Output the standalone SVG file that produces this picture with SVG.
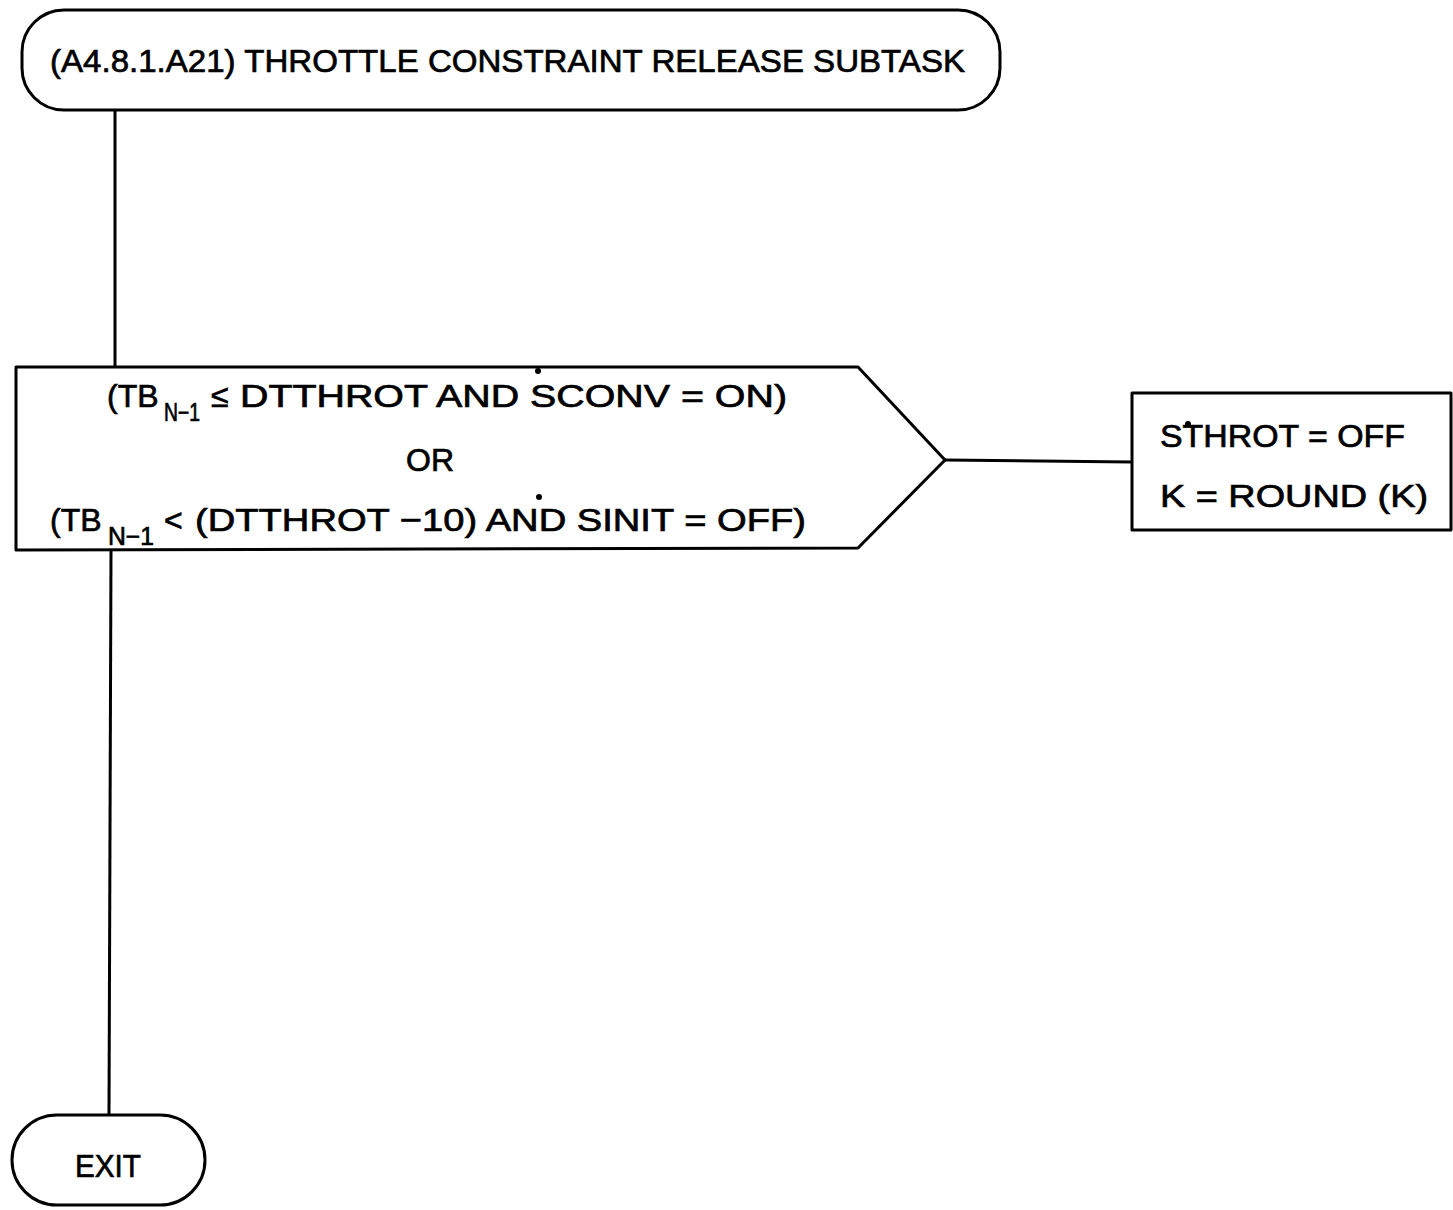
<svg xmlns="http://www.w3.org/2000/svg" width="1453" height="1210" viewBox="0 0 1453 1210">
<style>
.s{fill:none;stroke:#000;stroke-width:3;stroke-linejoin:round}
.c{fill:none;stroke:#000;stroke-width:3}
.t{font-family:"Liberation Sans",Arial,sans-serif;font-size:32px;fill:#000;stroke:#000;stroke-width:0.7}
.sub{font-size:25px}
</style>
<rect width="1453" height="1210" fill="#fff"/>
<g id="connectors">
<line class="c" x1="115" y1="110" x2="115" y2="367"/>
<line class="c" x1="111" y1="550" x2="109" y2="1115"/>
<line class="c" x1="945" y1="460" x2="1132" y2="462"/>
</g>
<g id="start">
<rect class="s" x="22" y="10" width="978" height="100" rx="42" ry="42"/>
<text class="t" x="50" y="72" textLength="915" lengthAdjust="spacingAndGlyphs">(A4.8.1.A21)  THROTTLE CONSTRAINT RELEASE SUBTASK</text>
</g>
<g id="decision">
<polygon class="s" points="16,367 858,367 945,460 858,548 16,550"/>
<text class="t" x="107" y="407">(TB<tspan class="sub" x="164" y="421" textLength="36" lengthAdjust="spacingAndGlyphs">N−1</tspan><tspan x="211" y="407">≤</tspan><tspan x="240" y="407" textLength="547" lengthAdjust="spacingAndGlyphs">DTTHROT AND SCONV  =  ON)</tspan></text>
<circle cx="538" cy="371" r="3"/>
<text class="t" x="430" y="471" text-anchor="middle">OR</text>
<text class="t" x="50" y="531">(TB<tspan class="sub" x="108" y="545" textLength="46" lengthAdjust="spacingAndGlyphs">N−1</tspan><tspan x="164" y="531">&lt;</tspan><tspan x="195" y="531" textLength="611" lengthAdjust="spacingAndGlyphs">(DTTHROT −10) AND SINIT  =  OFF)</tspan></text>
<circle cx="539" cy="497" r="3"/>
</g>
<g id="action">
<rect class="s" x="1132" y="393" width="319" height="137"/>
<text class="t" x="1160" y="447" textLength="245" lengthAdjust="spacingAndGlyphs">STHROT  =  OFF</text>
<circle cx="1188" cy="424" r="3"/>
<text class="t" x="1160" y="507" textLength="268" lengthAdjust="spacingAndGlyphs">K  =  ROUND (K)</text>
</g>
<g id="exit">
<rect class="s" x="12" y="1115" width="193" height="90" rx="45" ry="45"/>
<text class="t" x="75" y="1177" textLength="66" lengthAdjust="spacingAndGlyphs">EXIT</text>
</g>
</svg>
